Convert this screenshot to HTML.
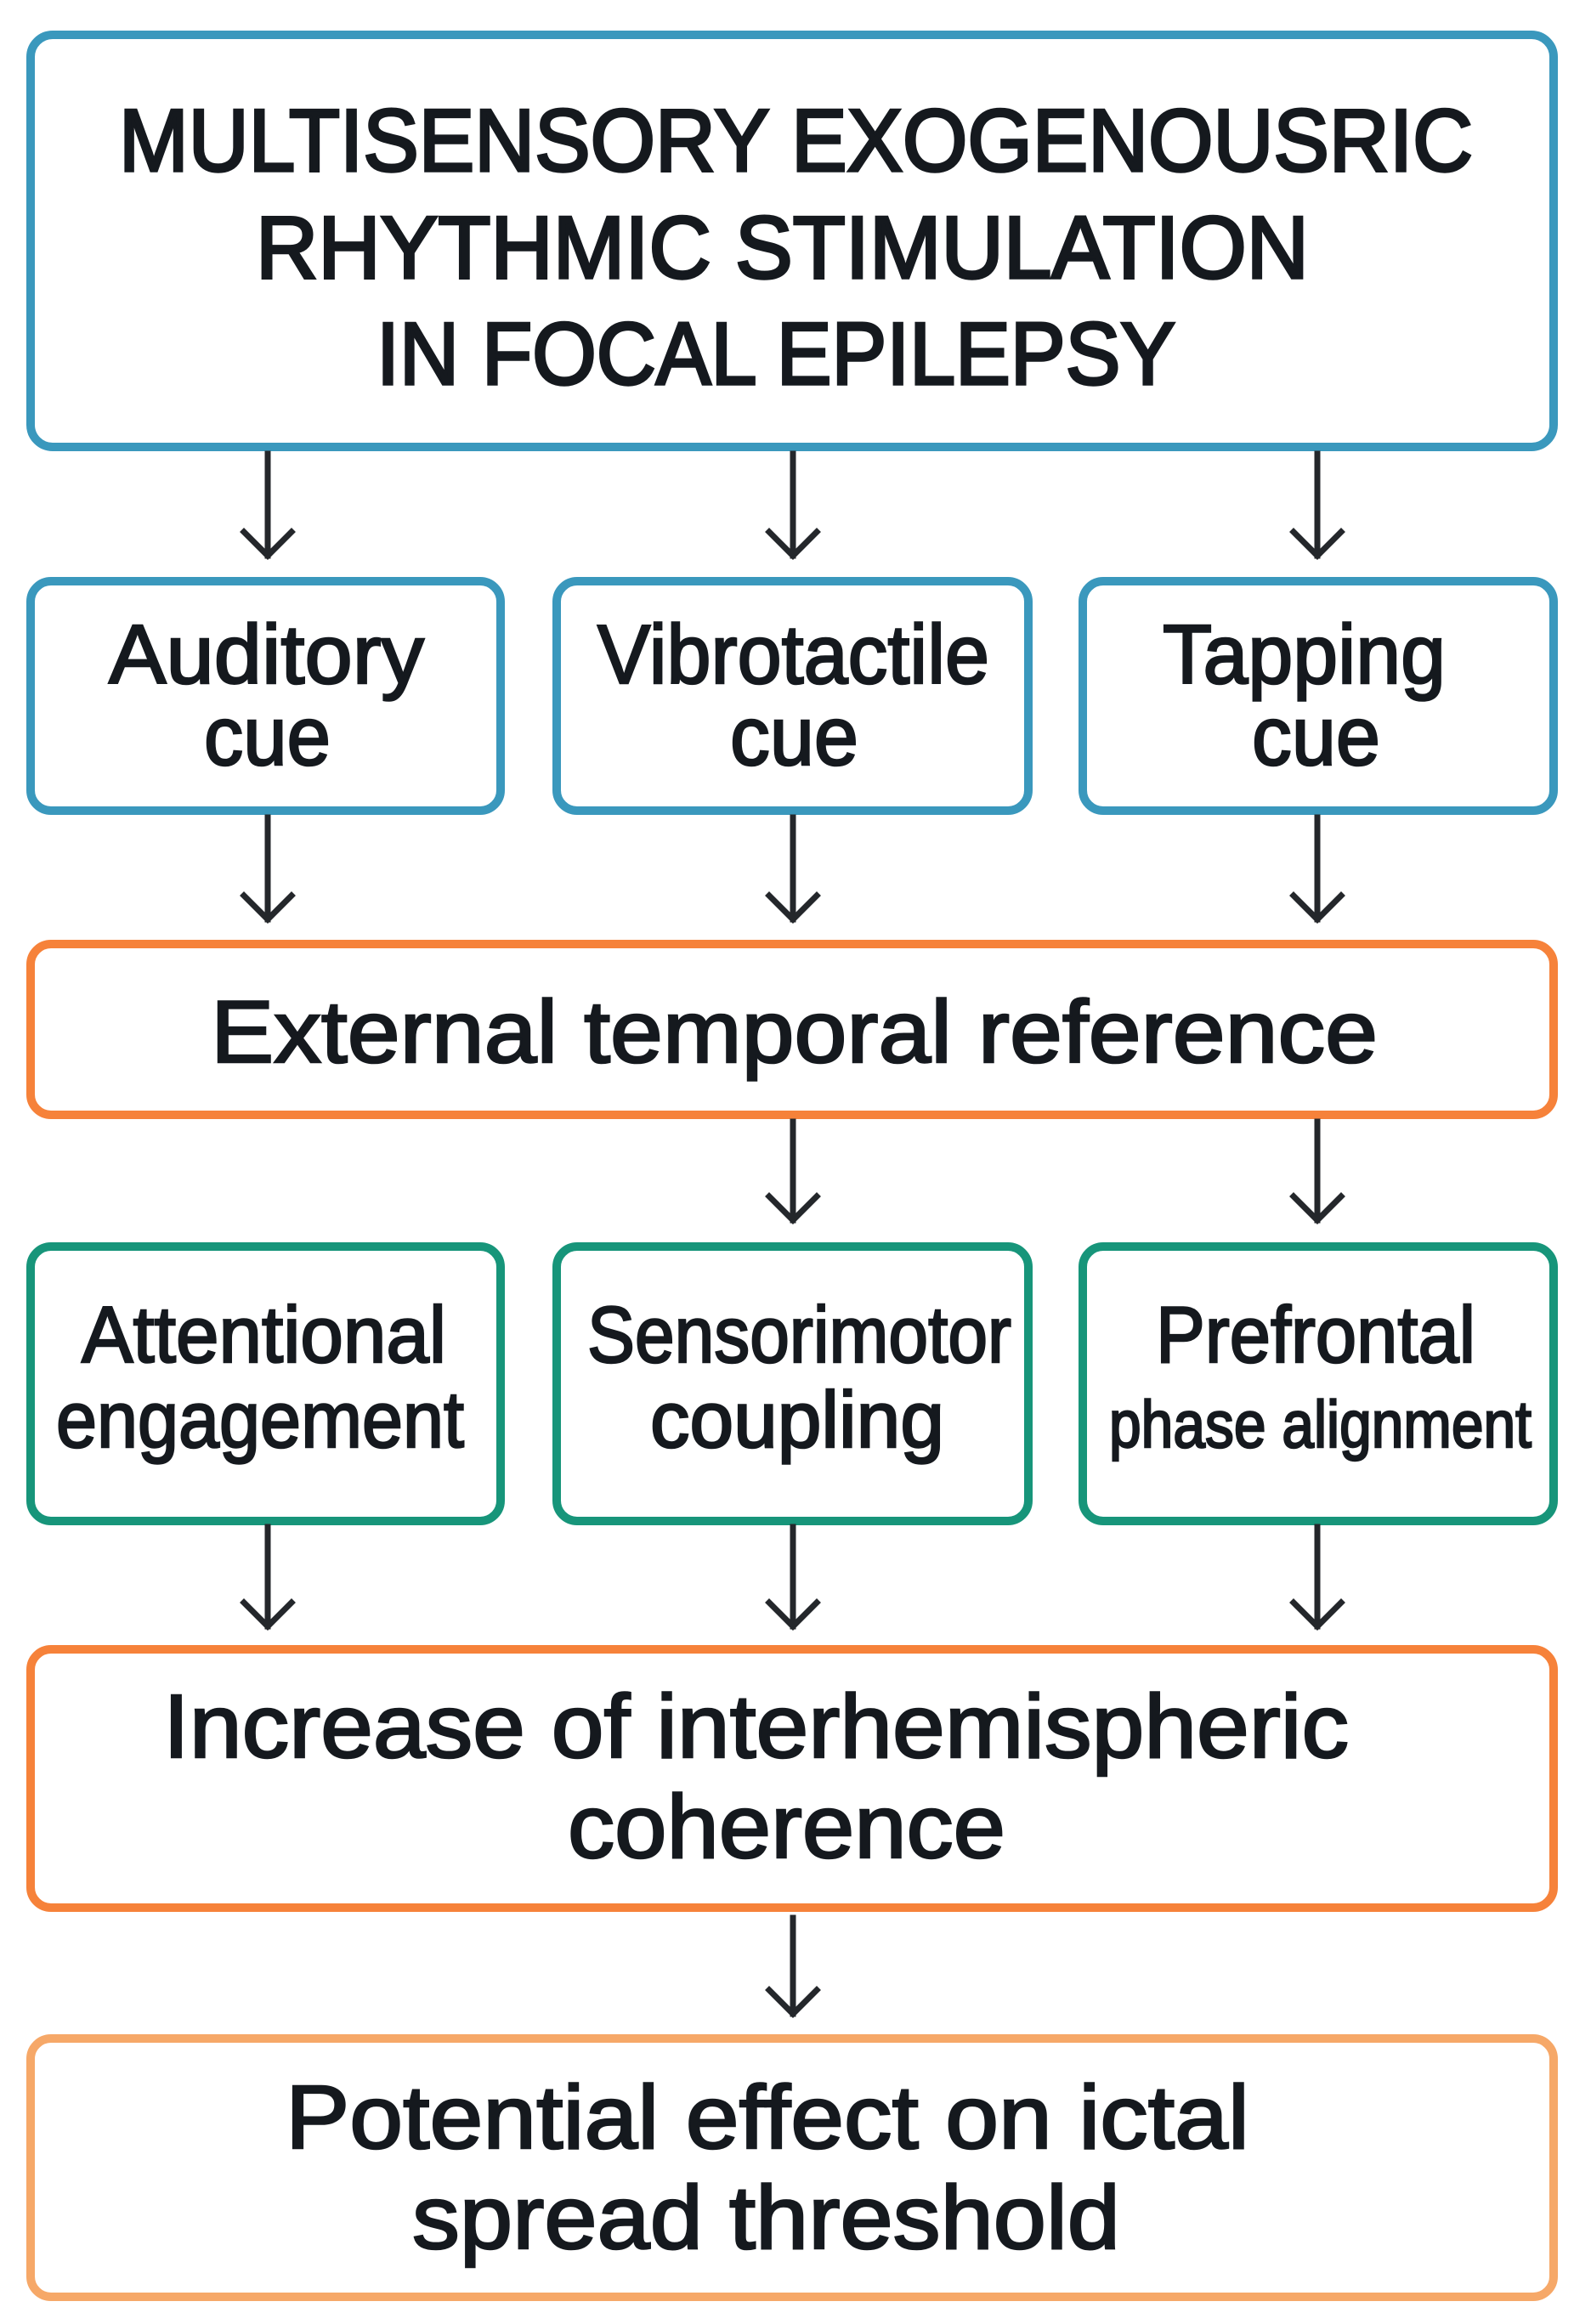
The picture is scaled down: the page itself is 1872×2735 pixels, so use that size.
<!DOCTYPE html>
<html><head><meta charset="utf-8"><style>html,body{margin:0;padding:0;background:#fff}svg{display:block}</style></head>
<body>
<svg width="1872" height="2735" viewBox="0 0 1872 2735" xmlns="http://www.w3.org/2000/svg">
<rect width="1872" height="2735" fill="#fff"/>
<g fill="#fff" stroke-width="10">
<rect x="36" y="41" width="1792" height="485" rx="26" stroke="#3a98bd"/>
<rect x="36" y="684" width="553" height="270" rx="24" stroke="#3a98bd"/>
<rect x="655" y="684" width="555" height="270" rx="24" stroke="#3a98bd"/>
<rect x="1274" y="684" width="554" height="270" rx="24" stroke="#3a98bd"/>
<rect x="36" y="1111" width="1792" height="201" rx="24" stroke="#f6823a"/>
<rect x="36" y="1467" width="553" height="323" rx="24" stroke="#17957a"/>
<rect x="655" y="1467" width="555" height="323" rx="24" stroke="#17957a"/>
<rect x="1274" y="1467" width="554" height="323" rx="24" stroke="#17957a"/>
<rect x="36" y="1941" width="1792" height="304" rx="24" stroke="#f6823a"/>
<rect x="36" y="2399" width="1792" height="304" rx="24" stroke="#f6a868"/>
</g>
<g stroke="#24272b" stroke-width="7" fill="none" stroke-linecap="square">
<path d="M315 534V654M287 626L315 654L343 626"/>
<path d="M933 534V654M905 626L933 654L961 626"/>
<path d="M1550 534V654M1522 626L1550 654L1578 626"/>
<path d="M315 962V1082M287 1054L315 1082L343 1054"/>
<path d="M933 962V1082M905 1054L933 1082L961 1054"/>
<path d="M1550 962V1082M1522 1054L1550 1082L1578 1054"/>
<path d="M933 1320V1436M905 1408L933 1436L961 1408"/>
<path d="M1550 1320V1436M1522 1408L1550 1436L1578 1408"/>
<path d="M315 1797V1914M287 1886L315 1914L343 1886"/>
<path d="M933 1797V1914M905 1886L933 1914L961 1886"/>
<path d="M1550 1797V1914M1522 1886L1550 1914L1578 1886"/>
<path d="M933 2257V2370M905 2342L933 2370L961 2342"/>
</g>
<g font-family="Liberation Sans, sans-serif" fill="#15191e" stroke="#15191e" stroke-width="2.5">
<text x="140" y="201" font-size="104" stroke-width="3.5" textLength="1593" lengthAdjust="spacingAndGlyphs">MULTISENSORY EXOGENOUSRIC</text>
<text x="301" y="327" font-size="104" stroke-width="3.5" textLength="1239" lengthAdjust="spacingAndGlyphs">RHYTHMIC STIMULATION</text>
<text x="443" y="452" font-size="104" stroke-width="3.5" textLength="940" lengthAdjust="spacingAndGlyphs">IN FOCAL EPILEPSY</text>
<text x="128" y="804" font-size="98" textLength="371" lengthAdjust="spacingAndGlyphs">Auditory</text>
<text x="240" y="900" font-size="98" textLength="149" lengthAdjust="spacingAndGlyphs">cue</text>
<text x="703" y="804" font-size="98" textLength="461" lengthAdjust="spacingAndGlyphs">Vibrotactile</text>
<text x="859" y="900" font-size="98" textLength="151" lengthAdjust="spacingAndGlyphs">cue</text>
<text x="1368" y="804" font-size="98" textLength="333" lengthAdjust="spacingAndGlyphs">Tapping</text>
<text x="1473" y="900" font-size="98" textLength="151" lengthAdjust="spacingAndGlyphs">cue</text>
<text x="248" y="1250" font-size="104" textLength="1373" lengthAdjust="spacingAndGlyphs">External temporal reference</text>
<text x="96" y="1603" font-size="94" textLength="429" lengthAdjust="spacingAndGlyphs">Attentional</text>
<text x="66" y="1703" font-size="94" textLength="480" lengthAdjust="spacingAndGlyphs">engagement</text>
<text x="691" y="1603" font-size="94" textLength="499" lengthAdjust="spacingAndGlyphs">Sensorimotor</text>
<text x="765" y="1703" font-size="94" textLength="346" lengthAdjust="spacingAndGlyphs">coupling</text>
<text x="1360" y="1603" font-size="94" textLength="376" lengthAdjust="spacingAndGlyphs">Prefrontal</text>
<text x="1305" y="1703" font-size="78" textLength="497" lengthAdjust="spacingAndGlyphs">phase alignment</text>
<text x="192" y="2068" font-size="106" textLength="1395" lengthAdjust="spacingAndGlyphs">Increase of interhemispheric</text>
<text x="668" y="2186" font-size="106" textLength="515" lengthAdjust="spacingAndGlyphs">coherence</text>
<text x="336" y="2528" font-size="106" textLength="1134" lengthAdjust="spacingAndGlyphs">Potential effect on ictal</text>
<text x="485" y="2646" font-size="106" textLength="833" lengthAdjust="spacingAndGlyphs">spread threshold</text>
</g>
</svg>
</body></html>
